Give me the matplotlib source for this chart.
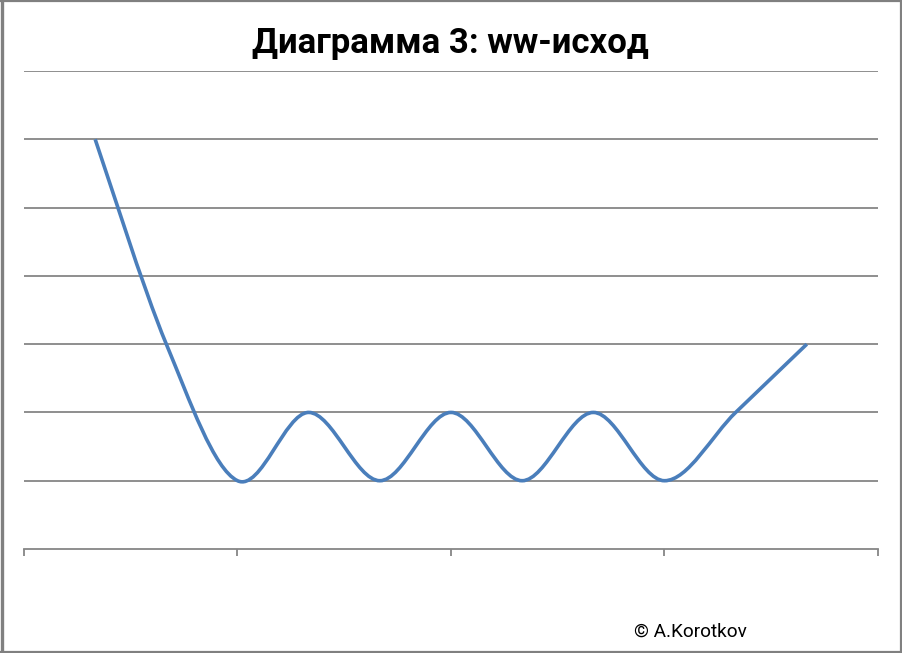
import matplotlib
matplotlib.use("Agg")
import matplotlib.pyplot as plt
from matplotlib.path import Path
from matplotlib.patches import PathPatch
from matplotlib.lines import Line2D

# ---- data ----
positions = [1, 2, 3, 4, 5, 6, 7, 8, 9, 10, 11]
values = [6, 3, 1, 2, 1, 2, 1, 2, 1, 2, 3]
title = "Диаграмма 3: ww-исход"
credit = "© A.Korotkov"
n_slots = 12
y_max = 7
tick_positions = [0, 3, 6, 9, 12]

W, H = 902, 653
fig = plt.figure(figsize=(W / 100, H / 100), dpi=100)
fig.patch.set_facecolor("white")

ax_left, ax_right = 24 / W, 878 / W
ax_bottom, ax_top = 1 - 549 / H, 1 - 71 / H
ax = fig.add_axes([ax_left, ax_bottom, ax_right - ax_left, ax_top - ax_bottom])
ax.set_xlim(0, n_slots)
ax.set_ylim(0, y_max)

grid_c = "#868686"
for v in range(1, y_max + 1):
    ax.axhline(v, color=grid_c, lw=1.3, zorder=1)
for s in ["top", "right", "left"]:
    ax.spines[s].set_visible(False)
ax.spines["bottom"].set_color(grid_c)
ax.spines["bottom"].set_linewidth(1.3)
ax.set_yticks([])
ax.set_xticks(tick_positions)
ax.set_xticklabels([])
ax.tick_params(axis="x", direction="out", length=5, width=1.3, color=grid_c)

# smoothed line (Bezier through data points, Excel-style)
pts = list(zip(positions, values))
verts = [pts[0]]
codes = [Path.MOVETO]
for i in range(len(pts) - 1):
    p0 = pts[i - 1] if i > 0 else pts[i]
    p1 = pts[i]
    p2 = pts[i + 1]
    p3 = pts[i + 2] if i + 2 < len(pts) else pts[i + 1]
    c1 = (p1[0] + (p2[0] - p0[0]) / 6, p1[1] + (p2[1] - p0[1]) / 6)
    c2 = (p2[0] - (p3[0] - p1[0]) / 6, p2[1] - (p3[1] - p1[1]) / 6)
    verts += [c1, c2, p2]
    codes += [Path.CURVE4] * 3
patch = PathPatch(Path(verts, codes), facecolor="none", edgecolor="#4A7EBB",
                  lw=2.6, zorder=3, capstyle="butt", joinstyle="round")
ax.add_patch(patch)

fig.text(450 / W, 1 - 43 / H, title, ha="center", va="center",
         fontsize=25, fontweight="bold", family=["Roboto", "DejaVu Sans"], color="black")
fig.text(634 / W, 1 - 632 / H, credit, ha="left", va="center",
         fontsize=13.7, family=["Roboto", "DejaVu Sans"], color="black")

# outer frame
fc = "#808080"
fig.add_artist(Line2D([1.5 / W, 1.5 / W], [0, 1], color=fc, lw=2.4, transform=fig.transFigure))
fig.add_artist(Line2D([0, 1], [1 - 1 / H, 1 - 1 / H], color=fc, lw=1.6, transform=fig.transFigure))
fig.add_artist(Line2D([900.5 / W, 900.5 / W], [0, 1], color=fc, lw=1.6, transform=fig.transFigure))
fig.add_artist(Line2D([0, 1], [1 - 651.5 / H, 1 - 651.5 / H], color=fc, lw=1.6, transform=fig.transFigure))

fig.savefig("out.png", dpi=100, facecolor="white")
